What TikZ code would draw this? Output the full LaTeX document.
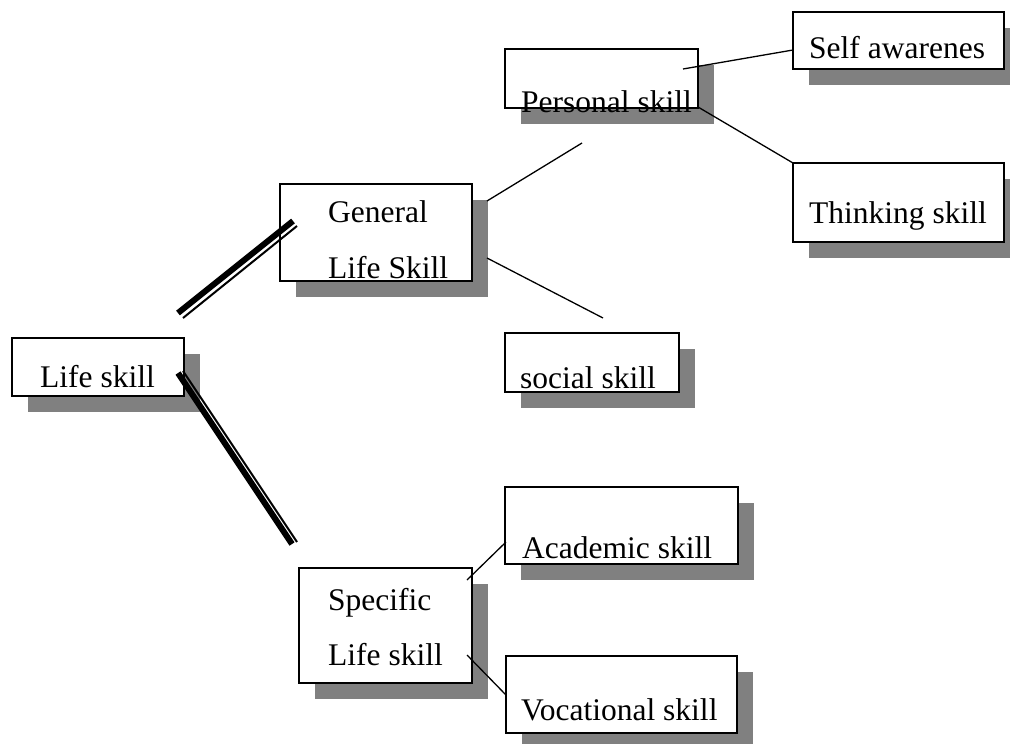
\documentclass[tikz,border=0pt]{standalone}
\usepackage{fontspec}
\setmainfont{Liberation Serif}
\usetikzlibrary{shadows}
\definecolor{shadowgray}{HTML}{808080}
\tikzset{
  skillbox/.style={draw=black, line width=1.6pt, fill=white, inner sep=0pt,
    drop shadow={shadow xshift=16pt, shadow yshift=-16pt, fill=shadowgray, opacity=1}},
  skilltext/.style={anchor=base west, inner sep=0pt, font=\fontsize{31.5}{38}\selectfont},
  thinline/.style={draw=black, line width=1.3pt},
  thickpart/.style={draw=black, line width=6pt},
  thinpart/.style={draw=black, line width=2pt}
}
\begin{document}
\begin{tikzpicture}[x=1pt, y=-1pt]
\useasboundingbox (0,0) rectangle (1010,744);
% boxes
\node[skillbox, minimum width=172pt, minimum height=58pt] (life) at (98,367) {};
\node[skillbox, minimum width=192pt, minimum height=97pt] (gen) at (376,232.5) {};
\node[skillbox, minimum width=193pt, minimum height=59pt] (pers) at (601.5,78.5) {};
\node[skillbox, minimum width=211pt, minimum height=57pt] (self) at (898.5,40.5) {};
\node[skillbox, minimum width=211pt, minimum height=79pt] (think) at (898.5,202.5) {};
\node[skillbox, minimum width=174pt, minimum height=59pt] (soc) at (592,362.5) {};
\node[skillbox, minimum width=233pt, minimum height=77pt] (acad) at (621.5,525.5) {};
\node[skillbox, minimum width=173pt, minimum height=115pt] (spec) at (385.5,625.5) {};
\node[skillbox, minimum width=231pt, minimum height=77pt] (voc) at (621.5,694.5) {};
% texts
\node[skilltext] (lifet) at (40,387) {Life skill};
\node[skilltext] (gent1) at (328,222) {General};
\node[skilltext] (gent2) at (328,278) {Life Skill};
\node[skilltext] (perst) at (521,112) {Personal skill};
\node[skilltext] (selft) at (809,58) {Self awarenes};
\node[skilltext] (thinkt) at (809,223) {Thinking skill};
\node[skilltext] (soct) at (520,388) {social skill};
\node[skilltext] (acadt) at (522,558) {Academic skill};
\node[skilltext] (spect1) at (328,610) {Specific};
\node[skilltext] (spect2) at (328,665) {Life skill};
\node[skilltext] (voct) at (521,720) {Vocational skill};
% connector end points
\coordinate (d1a) at (178,313);
\coordinate (d1b) at (293,221);
\coordinate (d1c) at (183,318);
\coordinate (d1d) at (297,226);
\coordinate (d2a) at (178,373);
\coordinate (d2b) at (292,544);
\coordinate (d2c) at (183,371);
\coordinate (d2d) at (297,542);
\coordinate (g1a) at (487,201);
\coordinate (g1b) at (582,143);
\coordinate (g2a) at (487,258);
\coordinate (g2b) at (603,318);
\coordinate (p1a) at (683,69);
\coordinate (p1b) at (793,50);
\coordinate (p2a) at (698,107);
\coordinate (p2b) at (793,163);
\coordinate (s1a) at (467,580);
\coordinate (s1b) at (506,542);
\coordinate (s2a) at (467,655);
\coordinate (s2b) at (506,695);
% connectors
\draw[thickpart] (d1a) -- (d1b);
\draw[thinpart] (d1c) -- (d1d);
\draw[thickpart] (d2a) -- (d2b);
\draw[thinpart] (d2c) -- (d2d);
\draw[thinline] (g1a) -- (g1b);
\draw[thinline] (g2a) -- (g2b);
\draw[thinline] (p1a) -- (p1b);
\draw[thinline] (p2a) -- (p2b);
\draw[thinline] (s1a) -- (s1b);
\draw[thinline] (s2a) -- (s2b);
\end{tikzpicture}
\end{document}
